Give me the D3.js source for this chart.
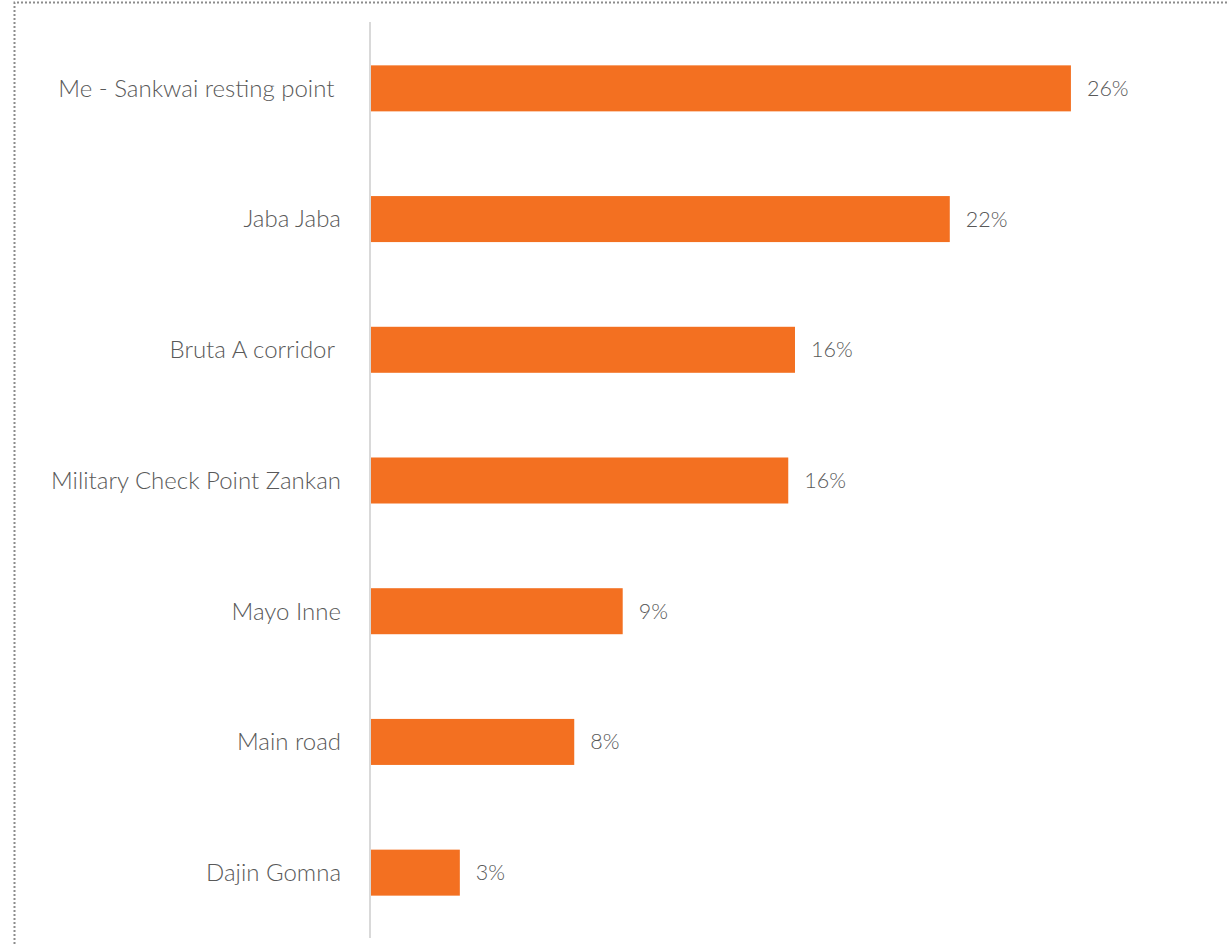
<!DOCTYPE html>
<html>
<head>
<meta charset="utf-8">
<script src="https://cdn.jsdelivr.net/npm/d3@7"></script>
<style>
  body { margin: 0; background: #fff; }
  svg text { font-family: "Lato", "Open Sans", sans-serif; font-weight: 300; fill: #595959; white-space: pre; }
</style>
</head>
<body>
<div id="chart"></div>
<script>
// categories (top to bottom) and shares in percent
var places = ["Me - Sankwai resting point ", "Jaba Jaba", "Bruta A corridor ", "Military Check Point Zankan", "Mayo Inne", "Main road", "Dajin Gomna"];
var shares = [26.0, 21.5, 15.75, 15.5, 9.35, 7.55, 3.3];
var shareLabels = ["26%", "22%", "16%", "16%", "9%", "8%", "3%"];

var width = 1229, height = 944;
var margin = {top: 23, right: 50, bottom: 6, left: 371};

var svg = d3.select("#chart").append("svg")
    .attr("width", width)
    .attr("height", height);

// dotted frame
svg.append("path")
    .attr("d", "M14.5," + height + "V2.5H" + width)
    .attr("fill", "none")
    .attr("stroke", "#8c8c8c")
    .attr("stroke-width", 2)
    .attr("stroke-dasharray", "2,2");

var x = d3.scaleLinear()
    .domain([0, 30])
    .range([margin.left, margin.left + 30 * 26.92]);

var y = d3.scaleBand()
    .domain(places)
    .range([margin.top, height - margin.bottom])
    .paddingInner(0.648)
    .paddingOuter(0.324);

var data = places.map(function(p, i) { return {place: p, value: shares[i], label: shareLabels[i]}; });

svg.selectAll("rect.bar")
    .data(data)
    .enter().append("rect")
    .attr("class", "bar")
    .attr("x", x(0))
    .attr("y", function(d) { return y(d.place); })
    .attr("width", function(d) { return x(d.value) - x(0); })
    .attr("height", y.bandwidth())
    .attr("fill", "#F37021");

// category axis line
svg.append("line")
    .attr("x1", x(0) - 1).attr("x2", x(0) - 1)
    .attr("y1", 22).attr("y2", 938)
    .attr("stroke", "#d9d9d9")
    .attr("stroke-width", 2);

// category labels
svg.selectAll("text.cat")
    .data(data)
    .enter().append("text")
    .attr("class", "cat")
    .attr("x", 341)
    .attr("y", function(d) { return y(d.place) + y.bandwidth() / 2; })
    .attr("dy", "0.35em")
    .attr("text-anchor", "end")
    .style("font-size", "24px")
    .text(function(d) { return d.place; });

// value labels
svg.selectAll("text.val")
    .data(data)
    .enter().append("text")
    .attr("class", "val")
    .attr("x", function(d) { return x(d.value) + 16; })
    .attr("y", function(d) { return y(d.place) + y.bandwidth() / 2; })
    .attr("dy", "0.35em")
    .style("font-size", "21.5px")
    .text(function(d) { return d.label; });
</script>
</body>
</html>
